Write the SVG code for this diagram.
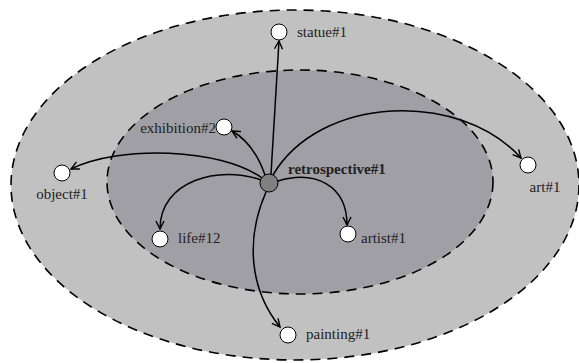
<svg xmlns="http://www.w3.org/2000/svg" width="579" height="363" viewBox="0 0 579 363">
<defs>
<marker id="arr" viewBox="0 0 10 10" refX="9" refY="5" markerWidth="10" markerHeight="10" markerUnits="userSpaceOnUse" orient="auto">
<path d="M1,1 L9,5 L1,9" fill="none" stroke="#000" stroke-width="1.4"/>
</marker>
<style>
.ring{stroke:#000;stroke-width:1.6;stroke-dasharray:10 7}
.node{fill:#fff;stroke:#000;stroke-width:1}
.lbl{font-family:"Liberation Serif","Times New Roman",serif;font-size:15px;fill:#222}
.edge{fill:none;stroke:#000;stroke-width:1.5;marker-end:url(#arr)}
</style>
</defs>
<rect width="579" height="363" fill="#fff"/>
<ellipse cx="295" cy="185" rx="284" ry="175" fill="#c1c1c1" class="ring"/>
<ellipse cx="300" cy="182" rx="193" ry="112" fill="#a09fa5" class="ring"/>
<g id="connectors">
<path class="edge" d="M271,174 L279,41"/>
<path class="edge" d="M265,175 C258,155 248,140 232,131"/>
<path class="edge" d="M262,178 C220,148 120,145 71,169"/>
<path class="edge" d="M273,175 C320,95 460,90 521,158"/>
<path class="edge" d="M261,180 C220,165 160,180 160,229"/>
<path class="edge" d="M278,181 C315,170 347,185 347,225"/>
<path class="edge" d="M266,192 C245,240 250,290 280,327"/>
</g>
<g id="retrospective"><circle cx="269" cy="183" r="9" fill="#808080" stroke="#000" stroke-width="1"/><text class="lbl" x="288" y="174" font-weight="bold">retrospective#1</text></g>
<g id="statue"><circle class="node" cx="279" cy="32" r="8"/><text class="lbl" x="297" y="37">statue#1</text></g>
<g id="exhibition"><circle class="node" cx="224" cy="127" r="8"/><text class="lbl" x="216" y="133" text-anchor="end">exhibition#2</text></g>
<g id="object"><circle class="node" cx="62" cy="173" r="8"/><text class="lbl" x="62" y="199" text-anchor="middle">object#1</text></g>
<g id="art"><circle class="node" cx="528" cy="165" r="8"/><text class="lbl" x="545" y="192" text-anchor="middle">art#1</text></g>
<g id="life"><circle class="node" cx="160" cy="239" r="8"/><text class="lbl" x="178" y="243">life#12</text></g>
<g id="artist"><circle class="node" cx="348" cy="234" r="8"/><text class="lbl" x="361" y="243">artist#1</text></g>
<g id="painting"><circle class="node" cx="288" cy="335" r="8"/><text class="lbl" x="306" y="339">painting#1</text></g>
</svg>
